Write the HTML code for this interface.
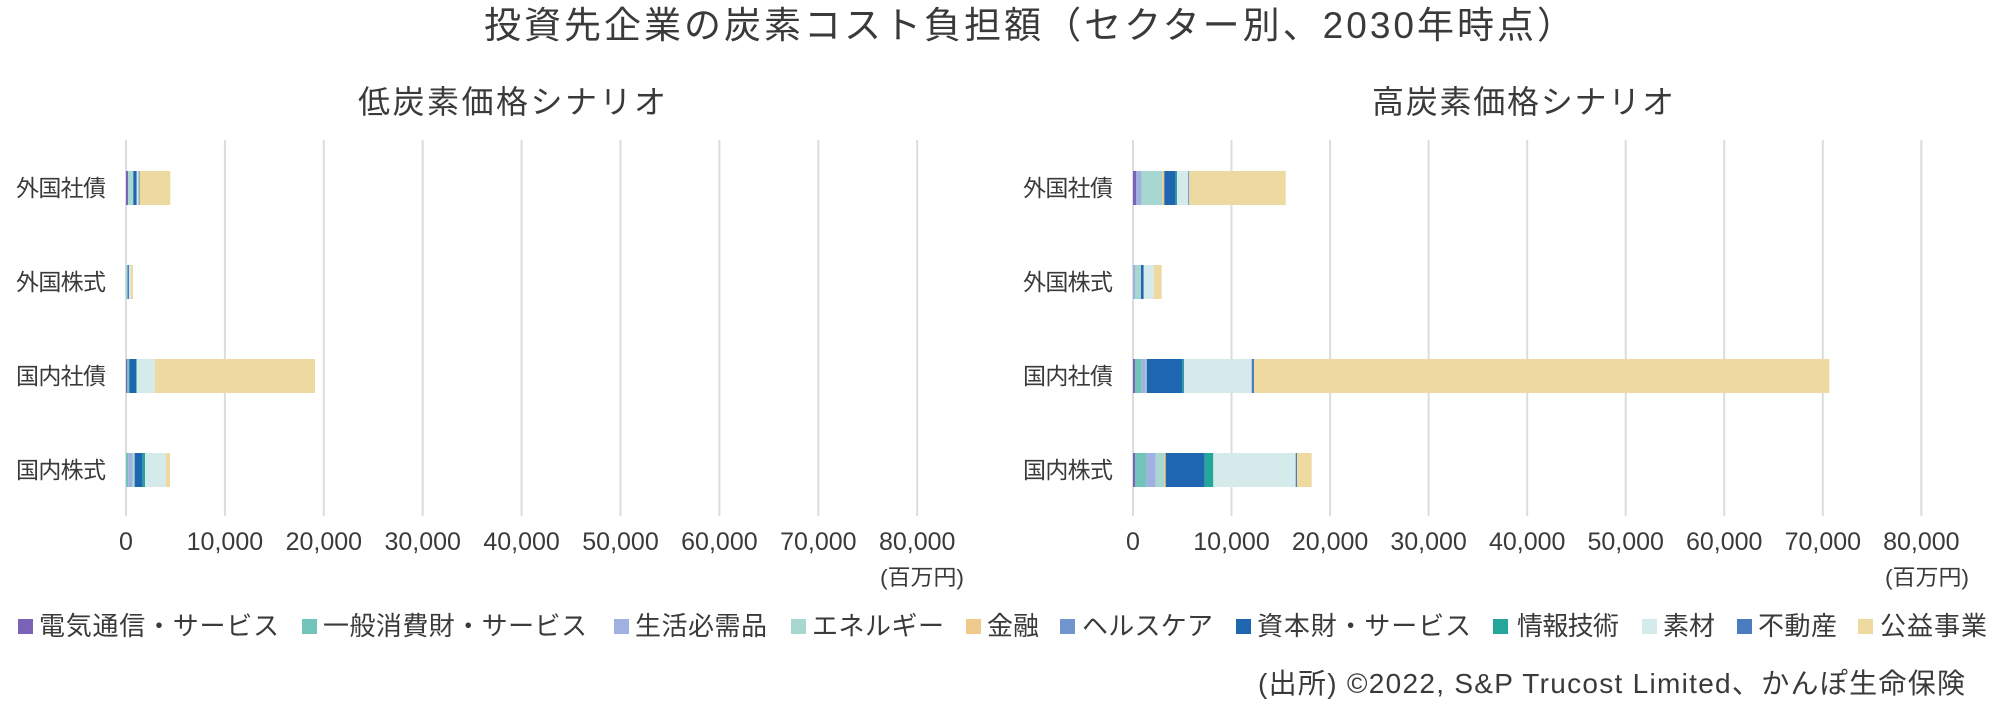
<!DOCTYPE html>
<html><head><meta charset="utf-8"><style>
html,body{margin:0;padding:0;background:#fff;}
svg{display:block;}
text{font-family:"Liberation Sans","Noto Sans CJK JP",sans-serif;fill:#3a3a3a;}
</style></head><body>
<svg width="2000" height="707" viewBox="0 0 2000 707" xmlns="http://www.w3.org/2000/svg">
<rect width="2000" height="707" fill="#fff"/>
<!-- Title -->
<text x="484" y="38" font-size="37" textLength="1090" lengthAdjust="spacing">投資先企業の炭素コスト負担額（セクター別、2030年時点）</text>
<text x="358" y="113" font-size="32" textLength="308" lengthAdjust="spacing">低炭素価格シナリオ</text>
<text x="1372" y="113" font-size="32" textLength="302" lengthAdjust="spacing">高炭素価格シナリオ</text>

<!-- gridlines -->
<g stroke="#dcdcdc" stroke-width="2">
<line x1="126" y1="140" x2="126" y2="516"/>
<line x1="224.9" y1="140" x2="224.9" y2="516"/>
<line x1="323.8" y1="140" x2="323.8" y2="516"/>
<line x1="422.7" y1="140" x2="422.7" y2="516"/>
<line x1="521.6" y1="140" x2="521.6" y2="516"/>
<line x1="620.5" y1="140" x2="620.5" y2="516"/>
<line x1="719.4" y1="140" x2="719.4" y2="516"/>
<line x1="818.3" y1="140" x2="818.3" y2="516"/>
<line x1="917.2" y1="140" x2="917.2" y2="516"/>
<line x1="1133" y1="140" x2="1133" y2="516"/>
<line x1="1231.5" y1="140" x2="1231.5" y2="516"/>
<line x1="1330.1" y1="140" x2="1330.1" y2="516"/>
<line x1="1428.6" y1="140" x2="1428.6" y2="516"/>
<line x1="1527.2" y1="140" x2="1527.2" y2="516"/>
<line x1="1625.7" y1="140" x2="1625.7" y2="516"/>
<line x1="1724.2" y1="140" x2="1724.2" y2="516"/>
<line x1="1822.8" y1="140" x2="1822.8" y2="516"/>
<line x1="1921.3" y1="140" x2="1921.3" y2="516"/>
</g>

<!-- Left bars -->
<g>
<rect x="126" y="171" width="2" height="34" fill="#7a62b6"/>
<rect x="128" y="171" width="5.3" height="34" fill="#a8d7d1"/>
<rect x="133.3" y="171" width="3.4" height="34" fill="#1f66b0"/>
<rect x="136.7" y="171" width="2" height="34" fill="#d5eaea"/>
<rect x="138.7" y="171" width="0.8" height="34" fill="#4a7dc0"/>
<rect x="139.5" y="171" width="30.8" height="34" fill="#eedaa0"/>

<rect x="126" y="265" width="1.5" height="34" fill="#a8d7d1"/>
<rect x="127.5" y="265" width="1.5" height="34" fill="#4a7dc0"/>
<rect x="129" y="265" width="1.7" height="34" fill="#d5eaea"/>
<rect x="130.7" y="265" width="2.3" height="34" fill="#eedaa0"/>

<rect x="126" y="359" width="1" height="34" fill="#7a62b6"/>
<rect x="127" y="359" width="2.3" height="34" fill="#72c4bb"/>
<rect x="129.3" y="359" width="6.7" height="34" fill="#1f66b0"/>
<rect x="136" y="359" width="0.8" height="34" fill="#25a69b"/>
<rect x="136.8" y="359" width="18.2" height="34" fill="#d5eaea"/>
<rect x="155" y="359" width="160" height="34" fill="#eedaa0"/>

<rect x="126" y="453" width="2.3" height="34" fill="#72c4bb"/>
<rect x="128.3" y="453" width="4.4" height="34" fill="#a0b1e1"/>
<rect x="132.7" y="453" width="2" height="34" fill="#a8d7d1"/>
<rect x="134.7" y="453" width="8" height="34" fill="#1f66b0"/>
<rect x="142.7" y="453" width="2.3" height="34" fill="#25a69b"/>
<rect x="145" y="453" width="21" height="34" fill="#d5eaea"/>
<rect x="166" y="453" width="4" height="34" fill="#eedaa0"/>
</g>

<!-- Right bars -->
<g>
<rect x="1133" y="171" width="3" height="34" fill="#7a62b6"/>
<rect x="1136" y="171" width="5.7" height="34" fill="#a0b1e1"/>
<rect x="1141.7" y="171" width="20.6" height="34" fill="#a8d7d1"/>
<rect x="1162.3" y="171" width="2" height="34" fill="#f0c98c"/>
<rect x="1164.3" y="171" width="11.4" height="34" fill="#1f66b0"/>
<rect x="1175.7" y="171" width="1.3" height="34" fill="#25a69b"/>
<rect x="1177" y="171" width="11.3" height="34" fill="#d5eaea"/>
<rect x="1188.3" y="171" width="0.9" height="34" fill="#4a7dc0"/>
<rect x="1189.2" y="171" width="96.5" height="34" fill="#eedaa0"/>

<rect x="1133" y="265" width="2" height="34" fill="#a0b1e1"/>
<rect x="1135" y="265" width="6" height="34" fill="#a8d7d1"/>
<rect x="1141" y="265" width="2.7" height="34" fill="#1f66b0"/>
<rect x="1143.7" y="265" width="10" height="34" fill="#d5eaea"/>
<rect x="1153.7" y="265" width="8" height="34" fill="#eedaa0"/>

<rect x="1133" y="359" width="2" height="34" fill="#7a62b6"/>
<rect x="1135" y="359" width="6.7" height="34" fill="#72c4bb"/>
<rect x="1141.7" y="359" width="4" height="34" fill="#a0b1e1"/>
<rect x="1145.7" y="359" width="1" height="34" fill="#a8d7d1"/>
<rect x="1146.7" y="359" width="36" height="34" fill="#1f66b0"/>
<rect x="1182.7" y="359" width="1.3" height="34" fill="#25a69b"/>
<rect x="1184" y="359" width="67.7" height="34" fill="#d5eaea"/>
<rect x="1251.7" y="359" width="2.3" height="34" fill="#4a7dc0"/>
<rect x="1254" y="359" width="575.3" height="34" fill="#eedaa0"/>

<rect x="1133" y="453" width="2" height="34" fill="#7a62b6"/>
<rect x="1135" y="453" width="11.7" height="34" fill="#72c4bb"/>
<rect x="1146.7" y="453" width="9" height="34" fill="#a0b1e1"/>
<rect x="1155.7" y="453" width="8.3" height="34" fill="#a8d7d1"/>
<rect x="1164" y="453" width="1.7" height="34" fill="#f0c98c"/>
<rect x="1165.7" y="453" width="39" height="34" fill="#1f66b0"/>
<rect x="1204.7" y="453" width="8.6" height="34" fill="#25a69b"/>
<rect x="1213.3" y="453" width="82.4" height="34" fill="#d5eaea"/>
<rect x="1295.7" y="453" width="1.3" height="34" fill="#4a7dc0"/>
<rect x="1297" y="453" width="14.7" height="34" fill="#eedaa0"/>
</g>

<!-- Category labels -->
<g font-size="23">
<text x="16" y="196" textLength="90" lengthAdjust="spacing">外国社債</text>
<text x="16" y="290" textLength="90" lengthAdjust="spacing">外国株式</text>
<text x="16" y="384" textLength="90" lengthAdjust="spacing">国内社債</text>
<text x="16" y="478" textLength="90" lengthAdjust="spacing">国内株式</text>
<text x="1023" y="196" textLength="90" lengthAdjust="spacing">外国社債</text>
<text x="1023" y="290" textLength="90" lengthAdjust="spacing">外国株式</text>
<text x="1023" y="384" textLength="90" lengthAdjust="spacing">国内社債</text>
<text x="1023" y="478" textLength="90" lengthAdjust="spacing">国内株式</text>
</g>

<!-- Tick labels -->
<g font-size="25" text-anchor="middle">
<text x="126" y="550">0</text>
<text x="224.9" y="550">10,000</text>
<text x="323.8" y="550">20,000</text>
<text x="422.7" y="550">30,000</text>
<text x="521.6" y="550">40,000</text>
<text x="620.5" y="550">50,000</text>
<text x="719.4" y="550">60,000</text>
<text x="818.3" y="550">70,000</text>
<text x="917.2" y="550">80,000</text>
<text x="1133" y="550">0</text>
<text x="1231.5" y="550">10,000</text>
<text x="1330.1" y="550">20,000</text>
<text x="1428.6" y="550">30,000</text>
<text x="1527.2" y="550">40,000</text>
<text x="1625.7" y="550">50,000</text>
<text x="1724.2" y="550">60,000</text>
<text x="1822.8" y="550">70,000</text>
<text x="1921.3" y="550">80,000</text>
</g>
<g font-size="22">
<text x="880" y="585" textLength="84" lengthAdjust="spacingAndGlyphs">(百万円)</text>
<text x="1885" y="585" textLength="84" lengthAdjust="spacingAndGlyphs">(百万円)</text>
</g>

<!-- Legend -->
<g>
<rect x="18" y="619" width="15" height="15" fill="#7a62b6"/>
<rect x="302" y="619" width="15" height="15" fill="#72c4bb"/>
<rect x="614" y="619" width="15" height="15" fill="#a0b1e1"/>
<rect x="791" y="619" width="15" height="15" fill="#a8d7d1"/>
<rect x="966" y="619" width="15" height="15" fill="#f0c98c"/>
<rect x="1060" y="619" width="15" height="15" fill="#7195cf"/>
<rect x="1236" y="619" width="15" height="15" fill="#1f66b0"/>
<rect x="1493" y="619" width="15" height="15" fill="#25a69b"/>
<rect x="1642" y="619" width="15" height="15" fill="#d5eaea"/>
<rect x="1737" y="619" width="15" height="15" fill="#4a7dc0"/>
<rect x="1858" y="619" width="15" height="15" fill="#eedaa0"/>
</g>
<g font-size="26">
<text x="39" y="635" textLength="240" lengthAdjust="spacing">電気通信・サービス</text>
<text x="323" y="635" textLength="264" lengthAdjust="spacing">一般消費財・サービス</text>
<text x="635" y="635" textLength="132" lengthAdjust="spacing">生活必需品</text>
<text x="812" y="635" textLength="132" lengthAdjust="spacing">エネルギー</text>
<text x="987" y="635" textLength="52" lengthAdjust="spacing">金融</text>
<text x="1082" y="635" textLength="131" lengthAdjust="spacing">ヘルスケア</text>
<text x="1257" y="635" textLength="214" lengthAdjust="spacing">資本財・サービス</text>
<text x="1517" y="635" textLength="102" lengthAdjust="spacing">情報技術</text>
<text x="1663" y="635" textLength="52" lengthAdjust="spacing">素材</text>
<text x="1758" y="635" textLength="79" lengthAdjust="spacing">不動産</text>
<text x="1880" y="635" textLength="107" lengthAdjust="spacing">公益事業</text>
</g>

<!-- Source -->
<text x="1258" y="693" font-size="28" textLength="707" lengthAdjust="spacing">(出所) ©2022, S&amp;P Trucost Limited、かんぽ生命保険</text>
</svg>
</body></html>
